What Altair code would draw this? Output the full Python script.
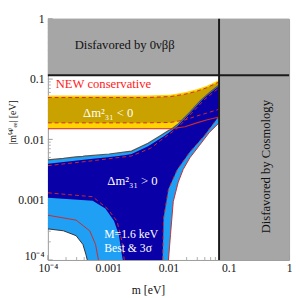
import altair as alt
import pandas as pd

# ---------------- values ----------------
tick_values = [1e-4, 1e-3, 1e-2, 1e-1, 1.0]
tick_labels = ["10⁻⁴", "0.001", "0.01", "0.1", "1"]
minor_ticks = [2e-4, 3e-4, 4e-4, 5e-4, 6e-4, 7e-4, 8e-4, 9e-4,
               2e-3, 3e-3, 4e-3, 5e-3, 6e-3, 7e-3, 8e-3, 9e-3,
               2e-2, 3e-2, 4e-2, 5e-2, 6e-2, 7e-2, 8e-2, 9e-2,
               0.2, 0.3, 0.4, 0.5, 0.6, 0.7, 0.8, 0.9]

m_cosmo = 0.069      # cosmology bound on m
mee_bound = 0.116    # 0νββ bound on |m_ee|

# Normal hierarchy, 3σ (light blue)
nh3_m = [1e-4, 1.81e-4, 2.94e-4, 3.81e-4, 4.26e-4, 4.5e-4, 1.04e-3, 2.44e-3, 4.58e-3,
         7.43e-3, 0.0100, 0.0108, 0.0120, 0.0145, 0.0175, 0.0226, 0.0328, 0.0475, 0.069]
nh3_lo = [3.28e-4, 3.05e-4, 2.53e-4, 1.81e-4, 1.25e-4, 1e-4, 1e-4, 1e-4, 1e-4,
          1e-4, 1e-4, 2.63e-4, 9.29e-4, 1.95e-3, 3.16e-3, 4.94e-3, 8.0e-3, 0.0130, 0.0188]
nh3_hi = [4.58e-3, 4.84e-3, 5.13e-3, 5.22e-3, 5.32e-3, 5.32e-3, 5.73e-3, 6.40e-3, 8.61e-3,
          0.0116, 0.0140, 0.0145, 0.0156, 0.0181, 0.0218, 0.0283, 0.0426, 0.0594, 0.080]

# Normal hierarchy, best fit (dark blue)
nh1_m = [1e-4, 5.52e-4, 8.96e-4, 1.25e-3, 1.50e-3, 1.68e-3, 1.75e-3, 2.44e-3, 4.58e-3,
         7.43e-3, 8.0e-3, 8.3e-3, 0.0100, 0.0140, 0.0226, 0.0395, 0.069]
nh1_lo = [1.08e-3, 9.64e-4, 7.16e-4, 4.42e-4, 2.63e-4, 1.25e-4, 1e-4, 1e-4, 1e-4,
          1e-4, 1e-4, 4.94e-4, 1.50e-3, 3.16e-3, 6.17e-3, 0.0116, 0.0244]
nh1_hi = [3.95e-3, 4.76e-3, 5.03e-3, 5.22e-3, 5.32e-3, 5.42e-3, 5.42e-3, 5.73e-3, 7.71e-3,
          0.0104, 0.0110, 0.0112, 0.0127, 0.0165, 0.0272, 0.0494, 0.0771]

# Inverted hierarchy
ih_m = [1e-4, 4.26e-3, 0.0108, 0.0188, 0.0294, 0.0426, 0.069]
ih1_lo = [0.0188, 0.0188, 0.0191, 0.0210, 0.0244, 0.0272, 0.0316]
ih1_hi = [0.0494, 0.0494, 0.0513, 0.0562, 0.0628, 0.0716, 0.0895]
ih3_lo = [0.0150, 0.0150, 0.0150, 0.0162, 0.0188, 0.0210, 0.0235]
ih3_hi = [0.0532, 0.0532, 0.0552, 0.0605, 0.0677, 0.0771, 0.0964]

# "NEW conservative" curves
nh_top_dash_m = [1e-4, 5.52e-4, 2.44e-3, 5.1e-3, 7.43e-3, 0.0140, 0.0226, 0.0395, 0.069]
nh_top_dash_v = [3.67e-3, 4.42e-3, 5.32e-3, 7.16e-3, 9.63e-3, 0.0153, 0.0253, 0.0458, 0.0716]
nh_corner_dash_m = [1e-4, 5.52e-4, 9.64e-4, 1.40e-3, 1.68e-3, 1.85e-3]
nh_corner_dash_v = [1.30e-3, 1.12e-3, 7.16e-4, 4.42e-4, 2.10e-4, 1e-4]
nh_corner_solid_m = [1e-4, 2.94e-4, 4.94e-4, 6.17e-4, 6.90e-4]
nh_corner_solid_v = [5.52e-4, 4.58e-4, 3.05e-4, 1.81e-4, 1e-4]
nh_right_dash_m = [8.0e-3, 8.3e-3, 0.0100, 0.0140, 0.0226, 0.0395, 0.069]
nh_right_dash_v = [1e-4, 4.94e-4, 1.50e-3, 3.16e-3, 6.17e-3, 0.0116, 0.0244]
nh_right_solid_m = [0.0100, 0.0108, 0.0120, 0.0145, 0.0175, 0.0226, 0.0328, 0.0475, 0.069]
nh_right_solid_v = [1e-4, 2.63e-4, 9.29e-4, 1.95e-3, 3.16e-3, 4.94e-3, 8.0e-3, 0.0130, 0.0188]

# text annotations (m, |m_ee|, text)
txt_m = [1.88e-3, 1.0e-3, 2.53e-3]
txt_v = [0.367, 0.0272, 2.02e-3]
txt_s = ["Disfavored by 0νββ", "Δm²₃₁ < 0", "Δm²₃₁ > 0"]

# ---------------- chart ----------------
FONT = "Liberation Serif"
xs = alt.Scale(type="log", domain=[1e-4, 1], nice=False)
ys = alt.Scale(type="log", domain=[1e-4, 1], nice=False)


def label_expr():
    parts = [f"datum.value < {v * 3} ? '{l}'" for v, l in zip(tick_values[:-1], tick_labels[:-1])]
    return " : ".join(parts) + f" : '{tick_labels[-1]}'"


xaxis = alt.Axis(values=tick_values, labelExpr=label_expr(), title="m [eV]", ticks=False,
                 domain=False, grid=False, labelFlush=False, labelPadding=3,
                 labelFont=FONT, labelFontSize=12, labelColor="#111",
                 titleFont=FONT, titleFontSize=12, titleFontWeight="normal", titleColor="#111",
                 titleX=103, titleY=30, titleBaseline="middle")
yaxis = alt.Axis(values=tick_values, labelExpr=label_expr(), title="|m⁽⁴⁾ₑₑ| [eV]", ticks=False,
                 domain=False, grid=False, labelFlush=False, labelPadding=4,
                 labelBaseline={"condition": {"test": f"datum.value < {tick_values[0] * 1.5}",
                                              "value": "alphabetic"},
                                "value": "middle"},
                 labelFont=FONT, labelFontSize=12, labelColor="#111",
                 titleFont=FONT, titleFontSize=10, titleFontWeight="normal", titleColor="#111",
                 titleX=-36, titleY=106, titleBaseline="middle", titleAngle=-90)


def X(f):
    return alt.X(f, type="quantitative", scale=xs, axis=xaxis)


def Y(f):
    return alt.Y(f, type="quantitative", scale=ys, axis=yaxis)


def band(m, lo, hi, color):
    df = pd.DataFrame({"m": m, "lo": lo, "hi": hi})
    return alt.Chart(df).mark_area(color=color, opacity=1, clip=True).encode(
        x=X("m"), y=Y("lo"), y2="hi")


def curve(m, v, color, dash=None, width=1.0):
    df = pd.DataFrame({"m": m, "mee": v})
    kw = dict(color=color, strokeWidth=width, clip=True)
    if dash:
        kw["strokeDash"] = dash
    return alt.Chart(df).mark_line(**kw).encode(x=X("m"), y=Y("mee"))


GOLD = "#c9a200"
YELLOW = "#ffd200"
DBLUE = "#0a00a8"
LBLUE = "#1fa0f5"
RED = "#cc2a2a"
DASH = [4, 3]

# inward minor/major ticks (drawn first, so bands cover them)
tk = pd.DataFrame({"m": minor_ticks})
tkM = pd.DataFrame({"m": tick_values})
layers = [
    alt.Chart(tk).mark_rule(color="#aaaaaa", strokeWidth=1).encode(
        x=X("m"), y=alt.value(248), y2=alt.value(245)),
    alt.Chart(tk).mark_rule(color="#aaaaaa", strokeWidth=1).encode(
        y=Y("m"), x=alt.value(0), x2=alt.value(3)),
    alt.Chart(tkM).mark_rule(color="#999999", strokeWidth=1).encode(
        x=X("m"), y=alt.value(248), y2=alt.value(243)),
    alt.Chart(tkM).mark_rule(color="#999999", strokeWidth=1).encode(
        y=Y("m"), x=alt.value(0), x2=alt.value(5)),
]

layers += [
    band(ih_m, ih3_lo, ih3_hi, YELLOW),
    band(ih_m, ih1_lo, ih1_hi, GOLD),
    band(nh3_m, nh3_lo, nh3_hi, LBLUE),
    band(nh1_m, nh1_lo, nh1_hi, DBLUE),
    curve(nh3_m, nh3_hi, "#555555", width=1.2),
    curve(nh3_m[:6], nh3_lo[:6], "#333333", width=1.0),
    curve(nh_top_dash_m, nh_top_dash_v, RED, DASH),
    curve(nh_corner_dash_m, nh_corner_dash_v, RED, DASH),
    curve(nh_corner_solid_m, nh_corner_solid_v, RED),
    curve(nh_right_dash_m, nh_right_dash_v, RED, DASH),
    curve(nh_right_solid_m, nh_right_solid_v, RED),
    curve(ih_m, ih3_lo, RED, width=1.2),
    curve(ih_m, ih1_lo, RED, DASH),
    curve(ih_m, ih1_hi, RED, DASH),
]

# disfavoured regions
regions = pd.DataFrame({
    "m": [m_cosmo, 1e-4], "m2": [1.0, m_cosmo],
    "lo": [1e-4, mee_bound], "hi": [1.0, 1.0],
})
layers.append(alt.Chart(regions).mark_rect(color="#a6a6a6", opacity=1).encode(
    x=X("m"), x2="m2", y=Y("lo"), y2="hi"))

bounds_v = pd.DataFrame({"m": [m_cosmo], "lo": [1e-4], "hi": [1.0]})
layers.append(alt.Chart(bounds_v).mark_rule(color="#1a1a1a", strokeWidth=2).encode(
    x=X("m"), y=Y("lo"), y2="hi"))
bounds_h = pd.DataFrame({"m": [1e-4], "m2": [1.0], "lo": [mee_bound]})
layers.append(alt.Chart(bounds_h).mark_rule(color="#1a1a1a", strokeWidth=2).encode(
    x=X("m"), x2="m2", y=Y("lo")))

# texts
t_main = pd.DataFrame({"m": txt_m, "mee": txt_v, "t": txt_s,
                       "c": ["#111111", "#ffffff", "#ffffff"]})
layers.append(alt.Chart(t_main).mark_text(font=FONT, fontSize=13, align="center",
                                          baseline="middle").encode(
    x=X("m"), y=Y("mee"), text="t", color=alt.Color("c:N", scale=None)))

t_new = pd.DataFrame({"m": [1.35e-4], "mee": [0.083], "t": ["NEW conservative"]})
layers.append(alt.Chart(t_new).mark_text(font=FONT, fontSize=13, align="left",
                                         baseline="middle", color="#ff2020").encode(
    x=X("m"), y=Y("mee"), text="t"))

t_m = pd.DataFrame({"m": [8.6e-4, 8.6e-4], "mee": [2.70e-4, 1.58e-4],
                    "t": ["M=1.6 keV", "Best & 3σ"]})
layers.append(alt.Chart(t_m).mark_text(font=FONT, fontSize=12, align="left",
                                       baseline="middle", color="#ffffff").encode(
    x=X("m"), y=Y("mee"), text="t"))

t_c = pd.DataFrame({"m": [0.41], "mee": [3.53e-3], "t": ["Disfavored by Cosmology"]})
layers.append(alt.Chart(t_c).mark_text(font=FONT, fontSize=13, align="center",
                                       baseline="middle", angle=270, color="#111111").encode(
    x=X("m"), y=Y("mee"), text="t"))

chart = alt.layer(*layers).properties(
    width=248, height=248,
    padding={"left": 41, "top": 7, "right": 3, "bottom": 35},
    autosize=alt.AutoSizeParams(type="none"),
).configure_view(stroke="#9a9a9a", strokeWidth=1)

chart.save("out.html", embed_options={"renderer": "svg", "actions": False})
